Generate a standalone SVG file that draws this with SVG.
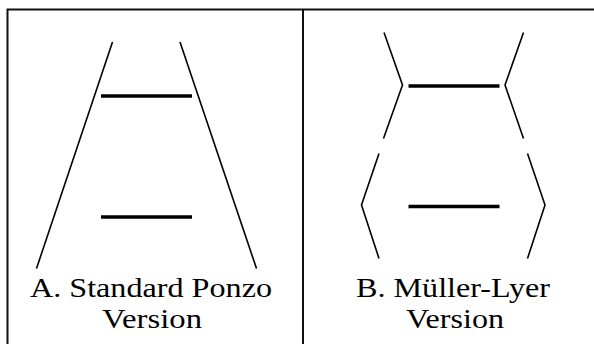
<svg xmlns="http://www.w3.org/2000/svg" width="594" height="344" viewBox="0 0 594 344">
<style>
.frame{fill:none;stroke:#111;stroke-width:2}
.side{fill:none;stroke:#000;stroke-width:1.6;stroke-linejoin:miter}
.bar{stroke:#000;stroke-width:3.5}
.lbl{font-family:"Liberation Serif","Times New Roman",serif;font-size:28px;fill:#000;text-anchor:middle}
</style>
<rect width="594" height="344" fill="#fff"/>
<g id="frame">
<path class="frame" d="M7.5,344 V9.5 H594"/>
<line class="frame" x1="303" y1="9.5" x2="303" y2="344"/>
</g>
<g id="panelA">
<line class="side" x1="112.5" y1="42" x2="36.5" y2="268.5"/>
<line class="side" x1="180" y1="42" x2="256.5" y2="268.5"/>
<line class="bar" x1="101" y1="96" x2="192" y2="96"/>
<line class="bar" x1="101" y1="217" x2="192" y2="217"/>
<text class="lbl" x="151" y="297" textLength="242" lengthAdjust="spacingAndGlyphs">A. Standard Ponzo</text>
<text class="lbl" x="152" y="328" textLength="100" lengthAdjust="spacingAndGlyphs">Version</text>
</g>
<g id="panelB">
<polyline class="side" points="384,32.5 402.5,85 383.5,138.5"/>
<polyline class="side" points="523.5,32.5 505,85 523.5,138.5"/>
<polyline class="side" points="379,153.5 361.5,205 379,258.5"/>
<polyline class="side" points="527.5,153.5 545,205 527.5,258.5"/>
<line class="bar" x1="408.5" y1="86" x2="499.5" y2="86"/>
<line class="bar" x1="408.5" y1="206.5" x2="499.5" y2="206.5"/>
<text class="lbl" x="453" y="297" textLength="194" lengthAdjust="spacingAndGlyphs">B. Müller-Lyer</text>
<text class="lbl" x="455" y="328" textLength="98" lengthAdjust="spacingAndGlyphs">Version</text>
</g>
</svg>
